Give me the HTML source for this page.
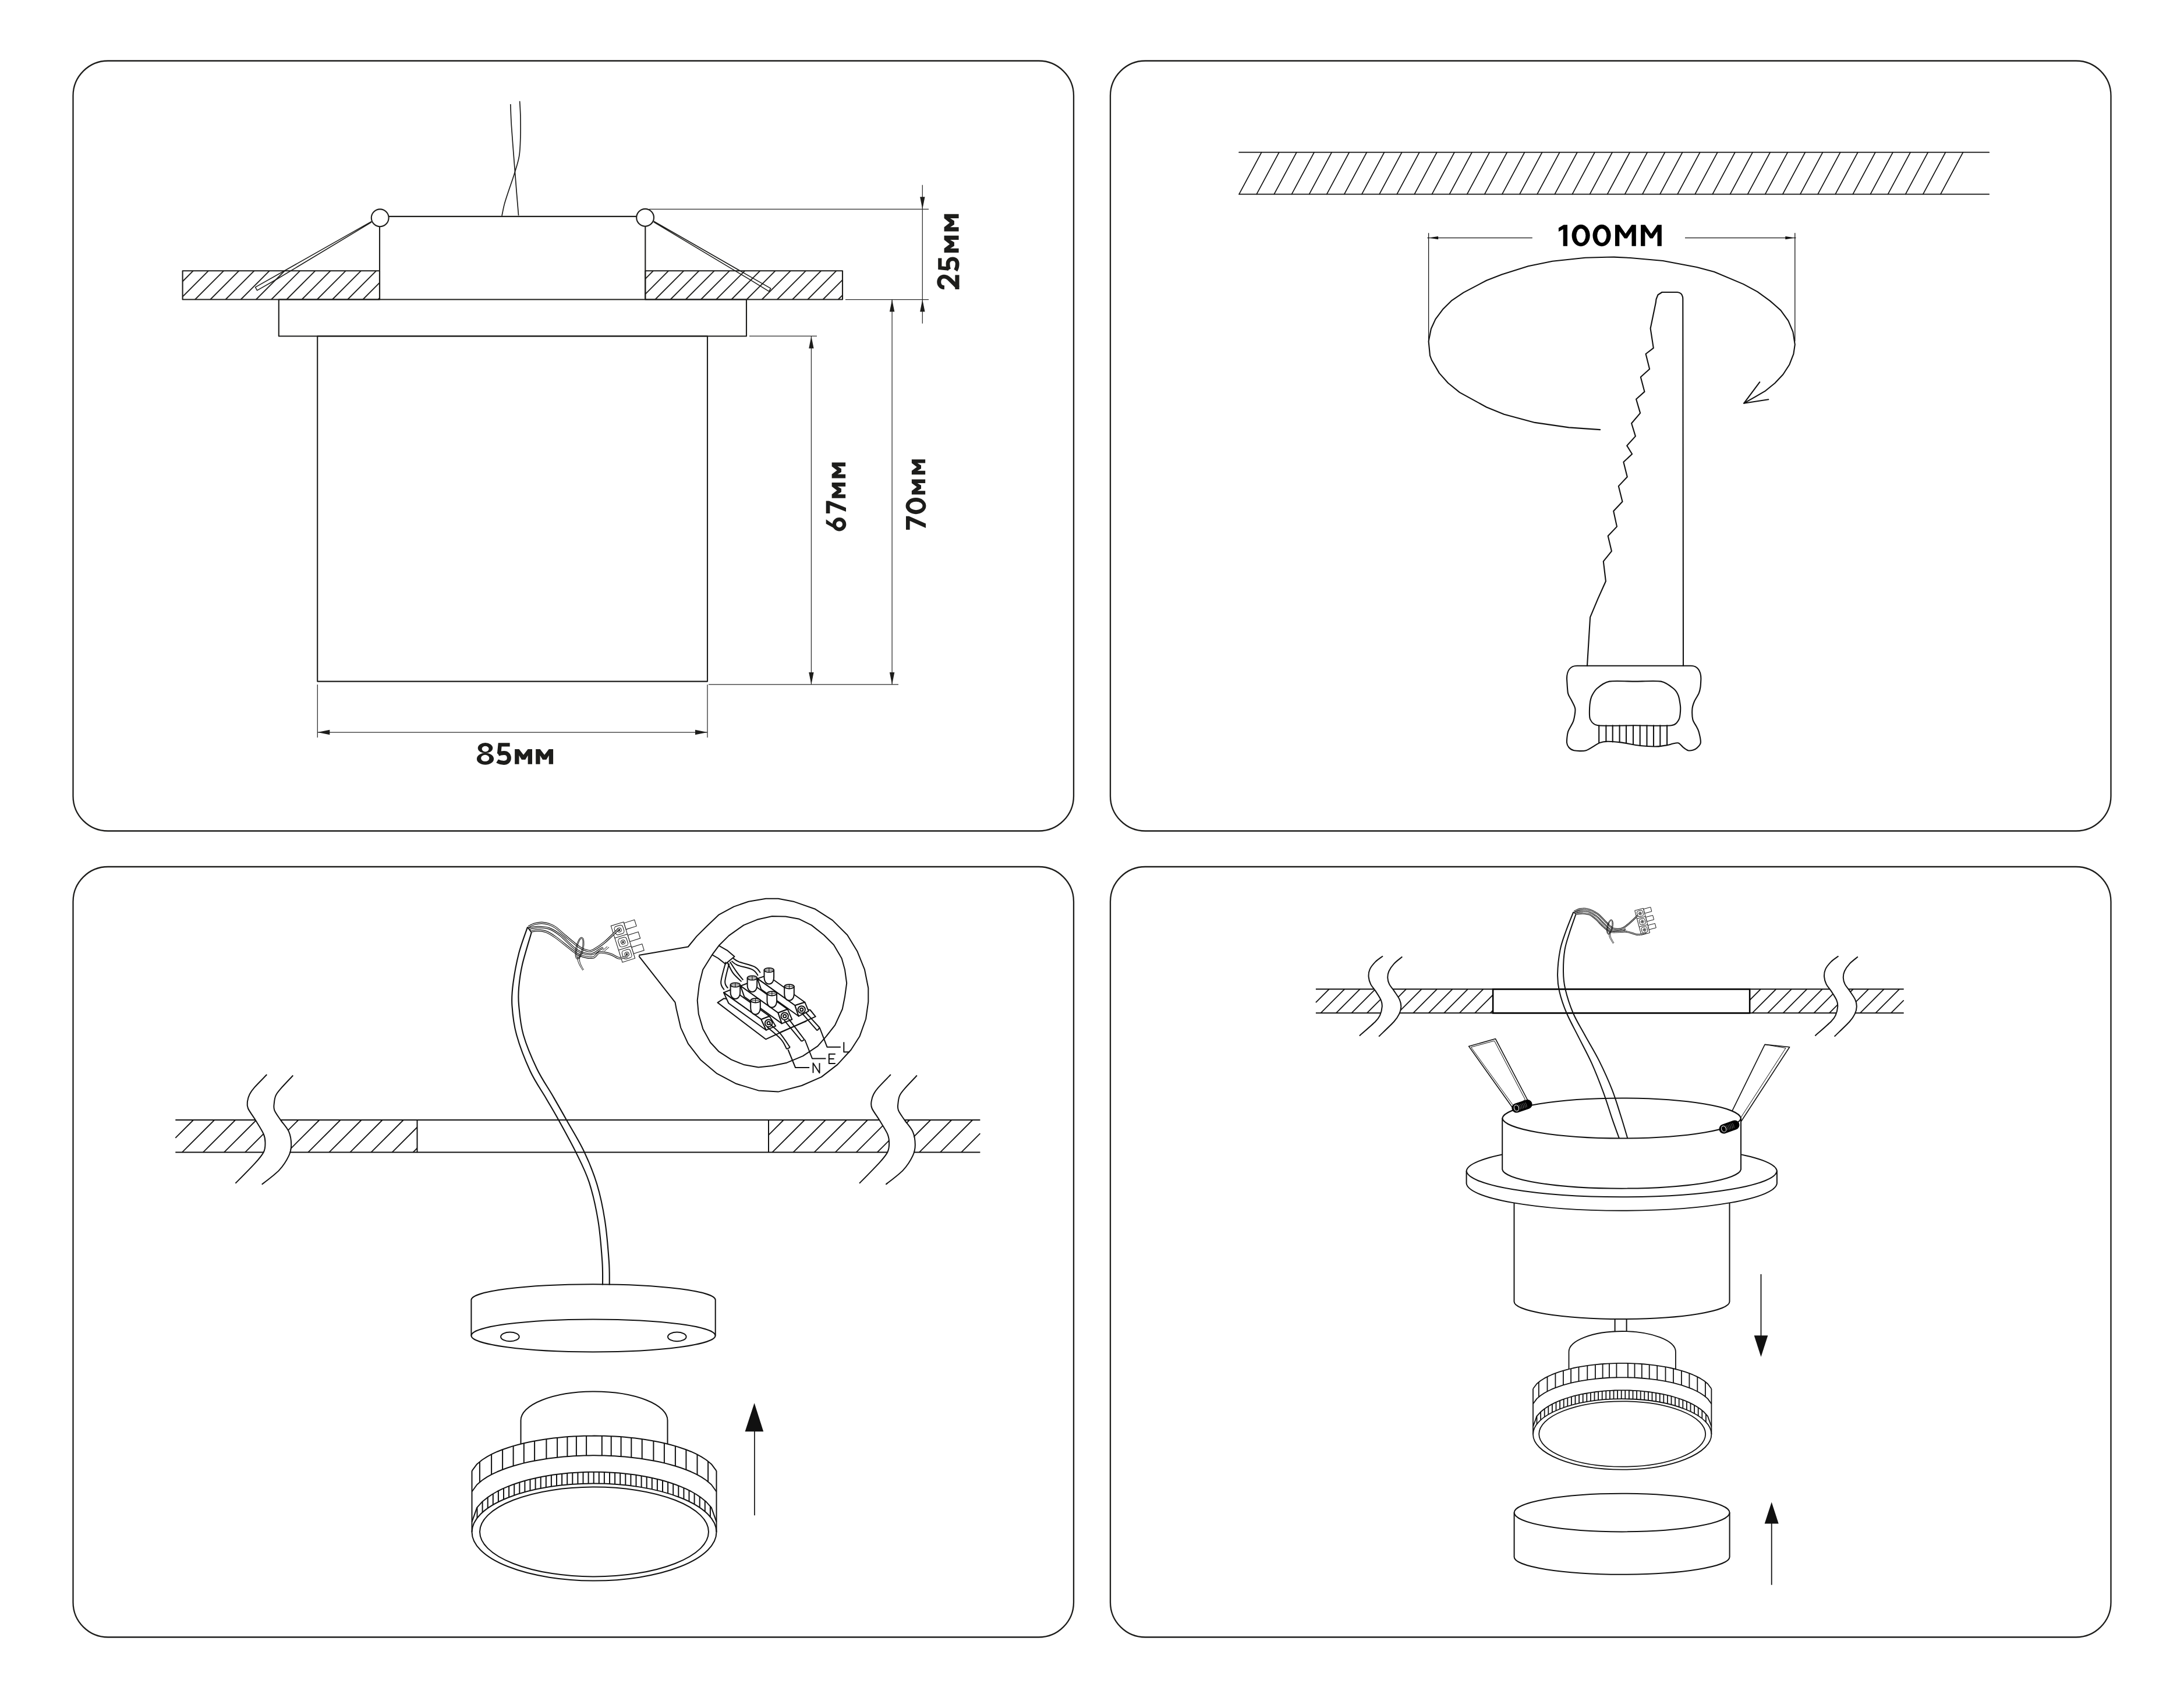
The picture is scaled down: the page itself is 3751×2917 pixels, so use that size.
<!DOCTYPE html><html><head><meta charset="utf-8"><style>html,body{margin:0;padding:0;background:#fff;}svg{display:block;}</style></head><body><svg width="3751" height="2917" viewBox="0 0 3751 2917"><rect width="3751" height="2917" fill="#fff"/><g fill="none" stroke="#1d1d1b" stroke-width="2.3"><rect x="125.5" y="104.5" width="1718.5" height="1323" rx="60" ry="60"/><rect x="1907" y="104.5" width="1718.5" height="1323" rx="60" ry="60"/><rect x="125.5" y="1489" width="1718.5" height="1323.5" rx="60" ry="60"/><rect x="1907" y="1489" width="1718.5" height="1323.5" rx="60" ry="60"/></g><g fill="none" stroke="#1d1d1b" stroke-width="2.1" stroke-linejoin="round"><rect x="313.6" y="465.2" width="338.4" height="49.3"/><rect x="1108.2" y="465.2" width="338.8" height="49.3"/><g stroke-width="1.9"><line x1="331.9" y1="465.2" x2="313.6" y2="483.5" /><line x1="358.1" y1="465.2" x2="313.6" y2="509.7" /><line x1="384.3" y1="465.2" x2="335" y2="514.5" /><line x1="410.5" y1="465.2" x2="361.2" y2="514.5" /><line x1="436.7" y1="465.2" x2="387.4" y2="514.5" /><line x1="462.9" y1="465.2" x2="413.6" y2="514.5" /><line x1="489.1" y1="465.2" x2="439.8" y2="514.5" /><line x1="515.3" y1="465.2" x2="466" y2="514.5" /><line x1="541.5" y1="465.2" x2="492.2" y2="514.5" /><line x1="567.7" y1="465.2" x2="518.4" y2="514.5" /><line x1="593.9" y1="465.2" x2="544.6" y2="514.5" /><line x1="620.1" y1="465.2" x2="570.8" y2="514.5" /><line x1="646.3" y1="465.2" x2="597" y2="514.5" /><line x1="652" y1="485.7" x2="623.2" y2="514.5" /><line x1="652" y1="511.9" x2="649.4" y2="514.5" /><line x1="1122.1" y1="465.2" x2="1108.2" y2="479.1" /><line x1="1148.3" y1="465.2" x2="1108.2" y2="505.3" /><line x1="1174.5" y1="465.2" x2="1125.2" y2="514.5" /><line x1="1200.7" y1="465.2" x2="1151.4" y2="514.5" /><line x1="1226.9" y1="465.2" x2="1177.6" y2="514.5" /><line x1="1253.1" y1="465.2" x2="1203.8" y2="514.5" /><line x1="1279.3" y1="465.2" x2="1230" y2="514.5" /><line x1="1305.5" y1="465.2" x2="1256.2" y2="514.5" /><line x1="1331.7" y1="465.2" x2="1282.4" y2="514.5" /><line x1="1357.9" y1="465.2" x2="1308.6" y2="514.5" /><line x1="1384.1" y1="465.2" x2="1334.8" y2="514.5" /><line x1="1410.3" y1="465.2" x2="1361" y2="514.5" /><line x1="1436.5" y1="465.2" x2="1387.2" y2="514.5" /><line x1="1447" y1="480.9" x2="1413.4" y2="514.5" /><line x1="1447" y1="507.1" x2="1439.6" y2="514.5" /></g><line x1="652" y1="389.2" x2="652" y2="514.5" /><line x1="1108.3" y1="388.6" x2="1108.3" y2="514.5" /><line x1="667.6" y1="371.9" x2="1093.1" y2="371.9" /><circle cx="652.7" cy="374.3" r="14.9" fill="#fff"/><circle cx="1108.1" cy="373.8" r="14.9" fill="#fff"/><rect x="478.8" y="514.5" width="803.2" height="63"/><rect x="545.2" y="577.5" width="669.8" height="593.1"/><g stroke-width="1.6"><path d="M638.2,380.4 L438.6,493.4 L441.6,498.9 L476,479.3 L638.2,381.6"/><path d="M1122.6,380 L1323.6,495.4 L1320.8,500.6 L1288,480.4 L1122.6,381.4"/></g><g stroke-width="1.7"><path d="M876.8,179 C877.1,185.2 877.3,198.8 878.4,216 C879.5,233.2 881.9,262.1 883.4,281.9 C884.9,301.7 886.4,319.9 887.6,334.6 C888.8,349.3 890.1,364.3 890.6,370.2"/><path d="M892.6,173.7 C892.8,178 893.7,189.2 893.9,199.5 C894.1,209.8 894.3,224.2 893.9,235.7 C893.5,247.2 893.4,258.2 891.6,268.7 C889.9,279.1 886.4,288.5 883.4,298.4 C880.4,308.3 876.4,319.2 873.5,328 C870.6,336.8 868.1,344 866.2,351.1 C864.3,358.2 862.7,367.6 862,370.9"/></g></g><g stroke="#2a2a2a" stroke-width="1.25" fill="none"><line x1="1115" y1="359.3" x2="1595" y2="359.3" /><line x1="1452" y1="514.5" x2="1595" y2="514.5" /><line x1="1584.3" y1="317.8" x2="1584.3" y2="555.8" /><line x1="1287" y1="577.4" x2="1403" y2="577.4" /><line x1="1393.4" y1="577.4" x2="1393.4" y2="1175.9" /><line x1="1532.1" y1="514.5" x2="1532.1" y2="1175.9" /><line x1="1217" y1="1175.9" x2="1543" y2="1175.9" /><line x1="545.3" y1="1176" x2="545.3" y2="1267" /><line x1="1215" y1="1176" x2="1215" y2="1267" /><line x1="545.3" y1="1258" x2="1215" y2="1258" /></g><polygon points="1584.3,359.3 1580.1,338.3 1588.5,338.3" fill="#1d1d1b" stroke="none"/><polygon points="1584.3,514.5 1588.5,535.5 1580.1,535.5" fill="#1d1d1b" stroke="none"/><polygon points="1393.4,577.4 1397.6,598.4 1389.2,598.4" fill="#1d1d1b" stroke="none"/><polygon points="1393.4,1175.9 1389.2,1154.9 1397.6,1154.9" fill="#1d1d1b" stroke="none"/><polygon points="1532.1,514.5 1536.3,535.5 1527.9,535.5" fill="#1d1d1b" stroke="none"/><polygon points="1532.1,1175.9 1527.9,1154.9 1536.3,1154.9" fill="#1d1d1b" stroke="none"/><polygon points="545.3,1258 566.3,1253.8 566.3,1262.2" fill="#1d1d1b" stroke="none"/><polygon points="1215,1258 1194,1262.2 1194,1253.8" fill="#1d1d1b" stroke="none"/><g transform="translate(818.90,1276.00) scale(0.37800)"><g transform="translate(0.00,0) scale(1.0000,1)"><ellipse cx="38.6" cy="23.8" rx="33.8" ry="23.8" fill="#1d1d1b"/><ellipse cx="38.6" cy="73.2" rx="38.6" ry="26.8" fill="#1d1d1b"/><ellipse cx="38.9" cy="28.1" rx="15.8" ry="12.8" fill="#fff"/><ellipse cx="37.9" cy="70" rx="18.8" ry="14.8" fill="#fff"/></g><g transform="translate(88.10,0) scale(1.0000,1)"><path d="M62,9 L17,9 L13,50" fill="none" stroke="#1d1d1b" stroke-width="17"/><path d="M9,52 C16,48 26,46.5 36,46.5 C49.5,46.5 58.6,56 58.6,69.5 C58.6,83 48.5,91 35,91 C23,91 13,88 5,83" fill="none" stroke="#1d1d1b" stroke-width="18.5"/></g><g transform="translate(172.60,0) scale(1.0000,1)"><polygon points="0,97.5 0,29 19.5,29 39.5,55 59.5,29 79,29 79,97.5 59.5,97.5 59.5,57.5 48,76.5 31,76.5 19.5,57.5 19.5,97.5" fill="#1d1d1b"/></g><g transform="translate(268.00,0) scale(1.0000,1)"><polygon points="0,97.5 0,29 19.5,29 39.5,55 59.5,29 79,29 79,97.5 59.5,97.5 59.5,57.5 48,76.5 31,76.5 19.5,57.5 19.5,97.5" fill="#1d1d1b"/></g></g><g transform="translate(1611.00,497.00) rotate(-90) scale(0.36500)"><g transform="translate(0.00,0) scale(1.0000,1)"><path d="M8.5,30 C9,13.5 21,4.8 34.5,4.8 C50,4.8 60,15 60,29 C60,40.5 54,48 46,56 L8,94" fill="none" stroke="#1d1d1b" stroke-width="19"/><rect x="0" y="80.5" width="67.4" height="19.5" fill="#1d1d1b"/></g><g transform="translate(83.80,0) scale(1.0103,1)"><path d="M62,9 L17,9 L13,50" fill="none" stroke="#1d1d1b" stroke-width="17"/><path d="M9,52 C16,48 26,46.5 36,46.5 C49.5,46.5 58.6,56 58.6,69.5 C58.6,83 48.5,91 35,91 C23,91 13,88 5,83" fill="none" stroke="#1d1d1b" stroke-width="18.5"/></g><g transform="translate(172.60,0) scale(1.0127,1)"><polygon points="0,97.5 0,29 19.5,29 39.5,55 59.5,29 79,29 79,97.5 59.5,97.5 59.5,57.5 48,76.5 31,76.5 19.5,57.5 19.5,97.5" fill="#1d1d1b"/></g><g transform="translate(272.60,0) scale(1.0304,1)"><polygon points="0,97.5 0,29 19.5,29 39.5,55 59.5,29 79,29 79,97.5 59.5,97.5 59.5,57.5 48,76.5 31,76.5 19.5,57.5 19.5,97.5" fill="#1d1d1b"/></g></g><g transform="translate(1418.70,913.50) rotate(-90) scale(0.34300)"><g transform="translate(0.00,0) scale(1.0000,1)"><circle cx="37.2" cy="66.5" r="25.2" fill="none" stroke="#1d1d1b" stroke-width="18.5"/><polygon points="40,0 62,0 29,48 7,60" fill="#1d1d1b"/></g><g transform="translate(92.10,0) scale(0.9080,1)"><polygon points="0,0 68.5,0 68.5,15 31,100 9,100 45,19.5 0,19.5" fill="#1d1d1b"/></g><g transform="translate(168.20,0) scale(0.9886,1)"><polygon points="0,97.5 0,29 19.5,29 39.5,55 59.5,29 79,29 79,97.5 59.5,97.5 59.5,57.5 48,76.5 31,76.5 19.5,57.5 19.5,97.5" fill="#1d1d1b"/></g><g transform="translate(268.50,0) scale(0.9886,1)"><polygon points="0,97.5 0,29 19.5,29 39.5,55 59.5,29 79,29 79,97.5 59.5,97.5 59.5,57.5 48,76.5 31,76.5 19.5,57.5 19.5,97.5" fill="#1d1d1b"/></g></g><g transform="translate(1556.00,910.00) rotate(-90) scale(0.34000)"><g transform="translate(0.00,0) scale(1.0000,1)"><polygon points="0,0 68.5,0 68.5,15 31,100 9,100 45,19.5 0,19.5" fill="#1d1d1b"/></g><g transform="translate(78.80,0) scale(0.9753,1)"><ellipse cx="42.5" cy="50" rx="42.5" ry="51.3" fill="#1d1d1b"/><ellipse cx="43" cy="51" rx="22" ry="33" fill="#fff"/></g><g transform="translate(177.60,0) scale(0.9709,1)"><polygon points="0,97.5 0,29 19.5,29 39.5,55 59.5,29 79,29 79,97.5 59.5,97.5 59.5,57.5 48,76.5 31,76.5 19.5,57.5 19.5,97.5" fill="#1d1d1b"/></g><g transform="translate(278.70,0) scale(0.9709,1)"><polygon points="0,97.5 0,29 19.5,29 39.5,55 59.5,29 79,29 79,97.5 59.5,97.5 59.5,57.5 48,76.5 31,76.5 19.5,57.5 19.5,97.5" fill="#1d1d1b"/></g></g><g fill="none" stroke="#111" stroke-width="1.7" stroke-linejoin="round" stroke-linecap="round"><line x1="2128.1" y1="261.7" x2="3416.2" y2="261.7" /><line x1="2128.1" y1="333.6" x2="3416.2" y2="333.6" /><line x1="2128.1" y1="333.6" x2="2166.7" y2="261.7" /><line x1="2158.2" y1="333.6" x2="2196.8" y2="261.7" /><line x1="2188.3" y1="333.6" x2="2226.9" y2="261.7" /><line x1="2218.5" y1="333.6" x2="2257.1" y2="261.7" /><line x1="2248.6" y1="333.6" x2="2287.2" y2="261.7" /><line x1="2278.7" y1="333.6" x2="2317.3" y2="261.7" /><line x1="2308.8" y1="333.6" x2="2347.4" y2="261.7" /><line x1="2338.9" y1="333.6" x2="2377.5" y2="261.7" /><line x1="2369.1" y1="333.6" x2="2407.7" y2="261.7" /><line x1="2399.2" y1="333.6" x2="2437.8" y2="261.7" /><line x1="2429.3" y1="333.6" x2="2467.9" y2="261.7" /><line x1="2459.4" y1="333.6" x2="2498" y2="261.7" /><line x1="2489.5" y1="333.6" x2="2528.1" y2="261.7" /><line x1="2519.7" y1="333.6" x2="2558.3" y2="261.7" /><line x1="2549.8" y1="333.6" x2="2588.4" y2="261.7" /><line x1="2579.9" y1="333.6" x2="2618.5" y2="261.7" /><line x1="2610" y1="333.6" x2="2648.6" y2="261.7" /><line x1="2640.1" y1="333.6" x2="2678.7" y2="261.7" /><line x1="2670.3" y1="333.6" x2="2708.9" y2="261.7" /><line x1="2700.4" y1="333.6" x2="2739" y2="261.7" /><line x1="2730.5" y1="333.6" x2="2769.1" y2="261.7" /><line x1="2760.6" y1="333.6" x2="2799.2" y2="261.7" /><line x1="2790.7" y1="333.6" x2="2829.3" y2="261.7" /><line x1="2820.9" y1="333.6" x2="2859.5" y2="261.7" /><line x1="2851" y1="333.6" x2="2889.6" y2="261.7" /><line x1="2881.1" y1="333.6" x2="2919.7" y2="261.7" /><line x1="2911.2" y1="333.6" x2="2949.8" y2="261.7" /><line x1="2941.3" y1="333.6" x2="2979.9" y2="261.7" /><line x1="2971.5" y1="333.6" x2="3010.1" y2="261.7" /><line x1="3001.6" y1="333.6" x2="3040.2" y2="261.7" /><line x1="3031.7" y1="333.6" x2="3070.3" y2="261.7" /><line x1="3061.8" y1="333.6" x2="3100.4" y2="261.7" /><line x1="3091.9" y1="333.6" x2="3130.5" y2="261.7" /><line x1="3122.1" y1="333.6" x2="3160.7" y2="261.7" /><line x1="3152.2" y1="333.6" x2="3190.8" y2="261.7" /><line x1="3182.3" y1="333.6" x2="3220.9" y2="261.7" /><line x1="3212.4" y1="333.6" x2="3251" y2="261.7" /><line x1="3242.5" y1="333.6" x2="3281.1" y2="261.7" /><line x1="3272.7" y1="333.6" x2="3311.3" y2="261.7" /><line x1="3302.8" y1="333.6" x2="3341.4" y2="261.7" /><line x1="3332.9" y1="333.6" x2="3371.5" y2="261.7" /></g><g stroke="#111" stroke-width="1.3" fill="none"><line x1="2453.6" y1="400.3" x2="2453.6" y2="586.5" /><line x1="3082.8" y1="400.3" x2="3082.8" y2="586.5" /><line x1="2451.4" y1="408.6" x2="2631.8" y2="408.6" /><line x1="2894" y1="408.6" x2="3084.5" y2="408.6" /></g><polygon points="2453.6,408.6 2470.1,405.9 2470.1,411.3" fill="#111" stroke="none"/><polygon points="3082.8,408.6 3066.3,411.3 3066.3,405.9" fill="#111" stroke="none"/><g transform="translate(2676.90,386.20) scale(0.36600)"><g transform="translate(0.00,0) scale(1.0000,1)"><polygon points="0,14.3 24,0 41.3,0 41.3,100 21.3,100 21.3,20.5 0,32" fill="#000"/></g><g transform="translate(62.00,0) scale(1.0000,1)"><ellipse cx="42.5" cy="50" rx="42.5" ry="51.3" fill="#000"/><ellipse cx="43" cy="51" rx="22" ry="33" fill="#fff"/></g><g transform="translate(160.10,0) scale(1.0000,1)"><ellipse cx="42.5" cy="50" rx="42.5" ry="51.3" fill="#000"/><ellipse cx="43" cy="51" rx="22" ry="33" fill="#fff"/></g><g transform="translate(265.20,0) scale(1.0000,1)"><polygon points="0,100 0,0 20,0 49,41.8 78,0 98,0 98,100 78,100 78,31 56.3,63.5 43.8,63.5 20,31 20,100" fill="#000"/></g><g transform="translate(385.80,0) scale(0.9959,1)"><polygon points="0,100 0,0 20,0 49,41.8 78,0 98,0 98,100 78,100 78,31 56.3,63.5 43.8,63.5 20,31 20,100" fill="#000"/></g></g><g fill="none" stroke="#111" stroke-width="2.1" stroke-linecap="round" stroke-linejoin="round"><path d="M2748.1,738.1 L2694.4,734.4 L2636,725.9 L2583.2,711.8 L2553.1,699.5 L2506.9,674.1 L2487.1,658 L2472,641.1 L2458.8,618.5 L2456,610.9 L2453.6,586.4 L2457.9,564.8 L2465.4,548.4 L2477.7,531.8 L2492.8,516.7 L2513.5,502.6 L2553.1,481.8 L2579.5,471.5 L2624.7,457.3 L2666.2,448.8 L2722.7,442.8 L2760,441.7 L2772,441.6 L2800,443 L2856.1,448 L2914.2,459 L2944.2,467 L2994.3,488.1 L3018.3,501.1 L3040.3,517.1 L3058.4,533.1 L3071.4,551.1 L3079.4,570.2 L3082.8,591.8 L3080.4,608.2 L3073.4,626.2 L3062.4,643.3 L3048.3,658.3 L3032.3,671.3 L3014.3,681.9 L2995.3,692.7"/><line x1="2995.3" y1="692.7" x2="3022.3" y2="656.3" /><line x1="2995.3" y1="692.7" x2="3037.3" y2="686.3" /><path d="M2726,1143.8 L2731.1,1060.3 2744.5,1028.4 2757.9,998.5 2753.8,964.4 2767.9,946.8 2761.7,920.8 2777,904.6 2771.2,878 2786.5,861.7 2779.8,835.1 2794.8,819.2 2788.4,793.8 2803.1,780 2794.2,765.6 2808.9,749.4 2802.1,727.3 2817.1,709.6 2810.1,685.7 2824.5,672.9 2817.8,647.8 2833.1,634 2826.6,608 2839.8,597.9 2834.6,564.2 2843.8,519.8 2844.5,514 2847.5,506.5 2854.5,502 L2881,502 Q2890.3,503 2890.3,513.7 L2891,1143.8"/><path d="M2708.5,1143.8 L2904.3,1143.8 C2915,1143.8 2921.4,1152 2921.4,1166 C2921.3,1167.9 2921,1176.6 2920.5,1180 C2920,1183.4 2919.1,1187.9 2917.7,1191.2 C2916.3,1194.5 2911.5,1201.4 2910,1205 C2908.5,1208.6 2906.7,1213.8 2906.4,1218 C2906.1,1222.2 2906.5,1232.7 2907.4,1236.6 C2908.3,1240.5 2911.6,1244.3 2913,1247 C2914.4,1249.7 2916.7,1253.4 2917.7,1257.2 C2918.7,1261 2921.2,1272.2 2920.8,1275.8 C2920.4,1279.4 2916.7,1282.8 2915,1284.5 C2913.3,1286.2 2910.1,1287.9 2908,1288.5 C2905.9,1289.1 2901.5,1289.8 2899.2,1289.2 C2896.9,1288.6 2893.2,1285.7 2891,1284 C2888.8,1282.3 2885.2,1277.2 2882.7,1276.4 C2880.2,1275.6 2874.9,1277.3 2872.4,1277.8 C2869.9,1278.3 2867.6,1279.4 2864,1280 C2860.4,1280.6 2851.9,1282.3 2845.6,1282.4 C2839.3,1282.5 2825,1281.9 2816.7,1281 C2808.4,1280.1 2791.1,1276.4 2783.7,1275.4 C2776.3,1274.4 2765.9,1273.6 2761,1273.7 C2756.1,1273.8 2751.5,1274.3 2746.6,1276.4 C2741.7,1278.5 2729.8,1287.5 2724,1289.2 C2718.2,1290.9 2707.2,1289.9 2703.3,1289.2 C2699.4,1288.5 2696.1,1285.8 2694.5,1284 C2692.9,1282.2 2691.2,1279.4 2691,1275.8 C2690.8,1272.2 2691.5,1262.1 2693,1257.2 C2694.5,1252.3 2700.6,1243.9 2702.3,1238.7 C2704,1233.5 2705.8,1222.8 2705.4,1218 C2705,1213.2 2700.7,1206.6 2699,1203 C2697.3,1199.4 2694.1,1195.9 2693,1191 C2691.9,1186.1 2691.3,1169.3 2691,1166 C2691,1152 2697,1143.8 2708.5,1143.8 Z"/><path d="M2764.1,1170.6 C2771.7,1169.2 2797.7,1170.6 2808,1170.6 C2818.3,1170.6 2845.1,1169.2 2852.8,1170.6 C2860.5,1172 2870.9,1180.1 2874.4,1183 C2877.9,1185.9 2881.3,1191.6 2882.7,1195.4 C2884.1,1199.2 2886.1,1211.3 2886.2,1216 C2886.3,1220.7 2885.6,1232.1 2883.7,1235.6 C2881.8,1239.1 2879.1,1245.1 2870.3,1246.3 C2861.5,1247.5 2822.7,1246.3 2808,1246.3 C2793.3,1246.3 2753.5,1247.5 2744.5,1246.3 C2735.5,1245.1 2732.8,1239.1 2731.1,1235.6 C2729.4,1232.1 2729.9,1220.5 2730.1,1216 C2730.3,1211.5 2731.8,1201.2 2733.2,1197.4 C2734.6,1193.6 2738.9,1186.1 2742.5,1183 C2746.1,1179.9 2756.5,1172 2764.1,1170.6Z"/><line x1="2746.2" y1="1246.3" x2="2746.2" y2="1276.1" /><line x1="2758.4" y1="1246.3" x2="2758.4" y2="1274.1" /><line x1="2769.7" y1="1246.3" x2="2769.7" y2="1274.4" /><line x1="2781.6" y1="1246.3" x2="2781.6" y2="1275.2" /><line x1="2793" y1="1246.3" x2="2793" y2="1277" /><line x1="2805" y1="1246.3" x2="2805" y2="1279" /><line x1="2816.7" y1="1246.3" x2="2816.7" y2="1281" /><line x1="2828.5" y1="1246.3" x2="2828.5" y2="1281.6" /><line x1="2840" y1="1246.3" x2="2840" y2="1282.1" /><line x1="2851.3" y1="1246.3" x2="2851.3" y2="1281.7" /><line x1="2863.1" y1="1246.3" x2="2863.1" y2="1280.1" /></g><g stroke="#111" stroke-width="2.0" fill="none"><line x1="301.3" y1="1924" x2="1683.4" y2="1924" /><line x1="301.3" y1="1979.6" x2="1683.4" y2="1979.6" /><line x1="716.5" y1="1924" x2="716.5" y2="1979.6" /><line x1="1320" y1="1924" x2="1320" y2="1979.6" /><g stroke-width="1.80"><line x1="332.2" y1="1924" x2="301.3" y2="1954.9" /><line x1="368.3" y1="1924" x2="312.7" y2="1979.6" /><line x1="404.3" y1="1924" x2="348.7" y2="1979.6" /><line x1="440.4" y1="1924" x2="384.8" y2="1979.6" /><line x1="476.5" y1="1924" x2="420.9" y2="1979.6" /><line x1="512.5" y1="1924" x2="457" y2="1979.6" /><line x1="548.6" y1="1924" x2="493" y2="1979.6" /><line x1="584.7" y1="1924" x2="529.1" y2="1979.6" /><line x1="620.8" y1="1924" x2="565.2" y2="1979.6" /><line x1="656.8" y1="1924" x2="601.2" y2="1979.6" /><line x1="692.9" y1="1924" x2="637.3" y2="1979.6" /><line x1="716.5" y1="1936.5" x2="673.4" y2="1979.6" /><line x1="716.5" y1="1972.5" x2="709.4" y2="1979.6" /><line x1="1345.8" y1="1924" x2="1320" y2="1949.8" /><line x1="1381.9" y1="1924" x2="1326.3" y2="1979.6" /><line x1="1417.9" y1="1924" x2="1362.3" y2="1979.6" /><line x1="1454" y1="1924" x2="1398.4" y2="1979.6" /><line x1="1490.1" y1="1924" x2="1434.5" y2="1979.6" /><line x1="1526.1" y1="1924" x2="1470.5" y2="1979.6" /><line x1="1562.2" y1="1924" x2="1506.6" y2="1979.6" /><line x1="1598.3" y1="1924" x2="1542.7" y2="1979.6" /><line x1="1634.4" y1="1924" x2="1578.8" y2="1979.6" /><line x1="1670.4" y1="1924" x2="1614.8" y2="1979.6" /><line x1="1683.4" y1="1947.1" x2="1650.9" y2="1979.6" /></g></g><path d="M458.3,1846 C454.8,1849.7 441.9,1862.5 437,1868.1 C432.1,1873.7 430.8,1875.8 428.8,1879.8 C426.8,1883.8 425.5,1888.1 425,1892.1 C424.5,1896.1 423.8,1898.8 426,1904 C428.2,1909.2 433.9,1916.2 438.4,1923.6 C442.9,1931 449.9,1941.6 452.8,1948.3 C455.7,1955 455.5,1958.6 455.5,1963.8 C455.5,1969 455.7,1973.5 452.8,1979.2 C449.9,1984.9 446.5,1988.9 438.4,1997.8 C430.3,2006.7 410.1,2027 404.4,2032.8 L449.7,2034.8 479.6,2010.1 496.1,1985.4 500.2,1966.8 496.1,1944.2 481.6,1923.6 471.3,1907.1 470.9,1894.7 473.7,1881.8 481.6,1870.8 503.3,1847.5 Z" fill="#fff" stroke="none"/><path d="M458.3,1846 C454.8,1849.7 441.9,1862.5 437,1868.1 C432.1,1873.7 430.8,1875.8 428.8,1879.8 C426.8,1883.8 425.5,1888.1 425,1892.1 C424.5,1896.1 423.8,1898.8 426,1904 C428.2,1909.2 433.9,1916.2 438.4,1923.6 C442.9,1931 449.9,1941.6 452.8,1948.3 C455.7,1955 455.5,1958.6 455.5,1963.8 C455.5,1969 455.7,1973.5 452.8,1979.2 C449.9,1984.9 446.5,1988.9 438.4,1997.8 C430.3,2006.7 410.1,2027 404.4,2032.8" fill="none" stroke="#111" stroke-width="2.0"/><path d="M503.3,1847.5 C499.7,1851.4 486.5,1865.1 481.6,1870.8 C476.7,1876.5 475.5,1877.8 473.7,1881.8 C471.9,1885.8 471.3,1890.5 470.9,1894.7 C470.5,1898.9 469.5,1902.3 471.3,1907.1 C473.1,1911.9 477.5,1917.4 481.6,1923.6 C485.7,1929.8 493,1937 496.1,1944.2 C499.2,1951.4 500.2,1959.9 500.2,1966.8 C500.2,1973.7 499.5,1978.2 496.1,1985.4 C492.7,1992.6 487.3,2001.9 479.6,2010.1 C471.9,2018.3 454.7,2030.7 449.7,2034.8" fill="none" stroke="#111" stroke-width="2.0"/><path d="M1529.9,1846 C1526.3,1849.7 1513.5,1862.5 1508.6,1868.1 C1503.7,1873.7 1502.4,1875.8 1500.4,1879.8 C1498.4,1883.8 1497.1,1888.1 1496.6,1892.1 C1496.1,1896.1 1495.4,1898.8 1497.6,1904 C1499.8,1909.2 1505.5,1916.2 1510,1923.6 C1514.5,1931 1521.5,1941.6 1524.4,1948.3 C1527.2,1955 1527.1,1958.6 1527.1,1963.8 C1527.1,1969 1527.2,1973.5 1524.4,1979.2 C1521.5,1984.9 1518.1,1988.9 1510,1997.8 C1501.9,2006.7 1481.7,2027 1476,2032.8 L1521.3,2034.8 1551.2,2010.1 1567.7,1985.4 1571.8,1966.8 1567.7,1944.2 1553.2,1923.6 1542.9,1907.1 1542.5,1894.7 1545.3,1881.8 1553.2,1870.8 1574.9,1847.5 Z" fill="#fff" stroke="none"/><path d="M1529.9,1846 C1526.3,1849.7 1513.5,1862.5 1508.6,1868.1 C1503.7,1873.7 1502.4,1875.8 1500.4,1879.8 C1498.4,1883.8 1497.1,1888.1 1496.6,1892.1 C1496.1,1896.1 1495.4,1898.8 1497.6,1904 C1499.8,1909.2 1505.5,1916.2 1510,1923.6 C1514.5,1931 1521.5,1941.6 1524.4,1948.3 C1527.2,1955 1527.1,1958.6 1527.1,1963.8 C1527.1,1969 1527.2,1973.5 1524.4,1979.2 C1521.5,1984.9 1518.1,1988.9 1510,1997.8 C1501.9,2006.7 1481.7,2027 1476,2032.8" fill="none" stroke="#111" stroke-width="2.0"/><path d="M1574.9,1847.5 C1571.3,1851.4 1558.1,1865.1 1553.2,1870.8 C1548.3,1876.5 1547.1,1877.8 1545.3,1881.8 C1543.5,1885.8 1542.9,1890.5 1542.5,1894.7 C1542.1,1898.9 1541.1,1902.3 1542.9,1907.1 C1544.7,1911.9 1549.1,1917.4 1553.2,1923.6 C1557.3,1929.8 1564.6,1937 1567.7,1944.2 C1570.8,1951.4 1571.8,1959.9 1571.8,1966.8 C1571.8,1973.7 1571.1,1978.2 1567.7,1985.4 C1564.3,1992.6 1558.9,2001.9 1551.2,2010.1 C1543.5,2018.3 1526.3,2030.7 1521.3,2034.8" fill="none" stroke="#111" stroke-width="2.0"/><g fill="none" stroke="#111" stroke-width="2.1"><path d="M906.1,1592.6 C903.6,1600.1 895.2,1621.8 891.1,1637.8 C887,1653.8 883.4,1673.5 881.4,1688.4 C879.4,1703.3 878.4,1712.3 879.4,1727.2 C880.4,1742.1 882,1759 887.2,1777.8 C892.4,1796.6 902.2,1821.8 910.6,1840 C919,1858.2 929.7,1872.8 937.8,1886.7 C945.9,1900.7 950.8,1908.5 959.2,1923.7 C967.6,1938.9 979.6,1960.3 988.4,1978.1 C997.1,1995.9 1005.2,2010.8 1011.7,2030.6 C1018.2,2050.4 1023.4,2074.1 1027.2,2096.8 C1031,2119.5 1033,2148.3 1034.3,2166.8 C1035.6,2185.3 1034.9,2200.8 1035,2207.6"/><path d="M912.8,1601.7 C910.2,1611 900.6,1641.5 897,1657.2 C893.4,1672.9 892.1,1684.4 891.1,1696.1 C890.1,1707.8 889.8,1713.6 891.1,1727.2 C892.4,1740.8 893.7,1759.6 898.9,1777.8 C904.1,1796 913.8,1818.7 922.2,1836.2 C930.6,1853.7 941.1,1868.2 949.5,1882.8 C957.9,1897.4 963.9,1907.8 972.8,1923.7 C981.7,1939.6 994.4,1959.6 1003.1,1978.1 C1011.9,1996.6 1019.3,2014.7 1025.3,2034.5 C1031.3,2054.3 1035.5,2074.8 1038.9,2096.8 C1042.3,2118.9 1044.6,2148.3 1045.9,2166.8 C1047.2,2185.3 1046.6,2200.8 1046.7,2207.6"/><line x1="906.1" y1="1592.6" x2="912.8" y2="1601.7" /></g><g transform="translate(1049.3,1590.7) rotate(-17.5) scale(1.0)" fill="#fff" stroke="#111" stroke-width="1.00"><rect x="22.7" y="2.0" width="19" height="11.5"/><rect x="22.7" y="23.8" width="19" height="11.5"/><rect x="22.7" y="45.6" width="19" height="11.5"/><rect x="0" y="0" width="22.7" height="65.4"/><rect x="4" y="3.4" width="15" height="15" rx="4"/><circle cx="11.5" cy="10.9" r="3.6"/><circle cx="11.5" cy="10.9" r="1.2" fill="#111"/><line x1="0" y1="21.8" x2="22.7" y2="21.8"/><rect x="4" y="25.2" width="15" height="15" rx="4"/><circle cx="11.5" cy="32.7" r="3.6"/><circle cx="11.5" cy="32.7" r="1.2" fill="#111"/><line x1="0" y1="43.6" x2="22.7" y2="43.6"/><rect x="4" y="47.0" width="15" height="15" rx="4"/><circle cx="11.5" cy="54.5" r="3.6"/><circle cx="11.5" cy="54.5" r="1.2" fill="#111"/></g><path d="M907.5,1592.1 C909.3,1591.3 914.2,1588.4 918.1,1587.3 C922,1586.2 926.4,1585.3 930.6,1585.4 C934.8,1585.5 939.1,1586.4 943.1,1587.8 C947.1,1589.2 949.8,1590.1 954.6,1593.6 C959.4,1597 965,1602.8 971.9,1608.5 C978.8,1614.2 989.6,1623.5 996,1627.7 C1002.4,1631.9 1006.4,1632.9 1010.4,1633.5 C1014.4,1634.1 1015.2,1634.1 1020,1631.5 C1024.8,1628.9 1032.2,1624 1039.2,1618.1 C1046.2,1612.2 1058.5,1599.7 1062.3,1596" fill="none" stroke="#111" stroke-width="3.6" stroke-linecap="butt" stroke-linejoin="round"/><path d="M907.5,1592.1 C909.3,1591.3 914.2,1588.4 918.1,1587.3 C922,1586.2 926.4,1585.3 930.6,1585.4 C934.8,1585.5 939.1,1586.4 943.1,1587.8 C947.1,1589.2 949.8,1590.1 954.6,1593.6 C959.4,1597 965,1602.8 971.9,1608.5 C978.8,1614.2 989.6,1623.5 996,1627.7 C1002.4,1631.9 1006.4,1632.9 1010.4,1633.5 C1014.4,1634.1 1015.2,1634.1 1020,1631.5 C1024.8,1628.9 1032.2,1624 1039.2,1618.1 C1046.2,1612.2 1058.5,1599.7 1062.3,1596" fill="none" stroke="#fff" stroke-width="1.3" stroke-linecap="butt" stroke-linejoin="round"/><path d="M909.4,1595 C911.8,1594.6 918.2,1592.6 923.8,1592.6 C929.4,1592.6 936.7,1592.7 943.1,1595 C949.5,1597.3 954.3,1600.2 962.3,1606.5 C970.3,1612.8 982.4,1627 991.2,1632.5 C1000,1638 1008.8,1639.4 1015.2,1639.2 C1021.6,1639 1026.1,1633.4 1029.6,1631.5 C1033.1,1629.6 1034.9,1628.6 1036,1628" fill="none" stroke="#111" stroke-width="3.6" stroke-linecap="butt" stroke-linejoin="round"/><path d="M909.4,1595 C911.8,1594.6 918.2,1592.6 923.8,1592.6 C929.4,1592.6 936.7,1592.7 943.1,1595 C949.5,1597.3 954.3,1600.2 962.3,1606.5 C970.3,1612.8 982.4,1627 991.2,1632.5 C1000,1638 1008.8,1639.4 1015.2,1639.2 C1021.6,1639 1026.1,1633.4 1029.6,1631.5 C1033.1,1629.6 1034.9,1628.6 1036,1628" fill="none" stroke="#fff" stroke-width="1.3" stroke-linecap="butt" stroke-linejoin="round"/><path d="M912.8,1599.8 C914.6,1599.6 919.5,1598.2 923.8,1598.4 C928,1598.6 933.2,1598.8 938.3,1600.8 C943.4,1602.8 947.4,1605.3 954.6,1610.4 C961.8,1615.5 974.6,1626.4 981.5,1631.5 C988.4,1636.6 989.9,1639 996,1641.2 C1002.1,1643.5 1012.5,1645.8 1018.1,1645 C1023.7,1644.2 1024.5,1637.3 1029.6,1636.3 C1034.7,1635.3 1043.2,1637.6 1048.8,1639.2 C1054.4,1640.8 1058.5,1645.3 1063.3,1646 C1068.1,1646.7 1075.3,1643.6 1077.7,1643.1" fill="none" stroke="#111" stroke-width="3.6" stroke-linecap="butt" stroke-linejoin="round"/><path d="M912.8,1599.8 C914.6,1599.6 919.5,1598.2 923.8,1598.4 C928,1598.6 933.2,1598.8 938.3,1600.8 C943.4,1602.8 947.4,1605.3 954.6,1610.4 C961.8,1615.5 974.6,1626.4 981.5,1631.5 C988.4,1636.6 989.9,1639 996,1641.2 C1002.1,1643.5 1012.5,1645.8 1018.1,1645 C1023.7,1644.2 1024.5,1637.3 1029.6,1636.3 C1034.7,1635.3 1043.2,1637.6 1048.8,1639.2 C1054.4,1640.8 1058.5,1645.3 1063.3,1646 C1068.1,1646.7 1075.3,1643.6 1077.7,1643.1" fill="none" stroke="#fff" stroke-width="1.3" stroke-linecap="butt" stroke-linejoin="round"/><g fill="none" stroke="#111" stroke-width="1.0"><ellipse cx="995.5" cy="1629" rx="6.5" ry="19" transform="rotate(12 995.5 1629)"/><ellipse cx="995.5" cy="1629" rx="4.5" ry="17" transform="rotate(12 995.5 1629)"/><path d="M993,1638 C992.9,1640 992,1646.5 992.5,1650 C993,1653.5 994.6,1656.2 996,1659 C997.4,1661.8 1000.2,1665.7 1001,1667"/><path d="M996,1638 C995.9,1640 995.2,1646.7 995.5,1650 C995.8,1653.3 996.8,1655.3 998,1658 C999.2,1660.7 1001.8,1664.7 1002.5,1666"/><line x1="1035" y1="1633" x2="1043" y2="1626" /><line x1="1038" y1="1634" x2="1046" y2="1627" /></g><g fill="none" stroke="#111" stroke-width="2.0" stroke-linejoin="round"><path d="M1097.2,1640.9 L1181.8,1626.5 L1196.6,1608.4 L1213.6,1591.5 L1234.8,1571.3 L1260.2,1557.6 L1285.7,1548.7 L1315.4,1543.8 L1336.6,1543.8 L1364.1,1549.1 L1400.2,1561.8 L1429.8,1580.9 L1455.3,1606.3 L1472.2,1633.9 L1485,1665.7 L1491.3,1697.5 L1491.3,1720.8 L1487.1,1750.5 L1476.5,1780.2 L1461.6,1803.5 L1438.3,1828.9 L1410.8,1850.1 L1376.8,1865 L1336.6,1875.6 L1302.6,1873.4 L1264.5,1861.8 L1230.6,1843.8 L1203,1820.4 L1181.8,1792.9 L1169.1,1765.3 L1161.7,1733.5 L1159.5,1721.9 L1097.2,1642.4" fill="#fff"/><path d="M1326,1574.1 L1349.3,1574.5 L1372.6,1578.8 L1393.8,1589.4 L1415,1606.3 L1432,1623.3 L1445.7,1646.6 L1451,1665.7 L1454.2,1689 L1451,1712.3 L1446.8,1733.5 L1434.1,1761.1 L1419.2,1780.2 L1404.4,1797.1 L1379,1814.1 L1351.4,1825.7 L1326,1831 L1302.6,1833.6 L1277.2,1828.9 L1256,1820.4 L1234.8,1806.7 L1220,1790.8 L1207.2,1767.4 L1199.8,1742 L1197.7,1718.7 L1200.9,1691.1 L1207.2,1665.7 L1223.1,1640.2 L1234.8,1624.3 L1251.8,1607.4 L1277.2,1589.4 L1300.5,1579.8 Z"/><path d="M1235.3,1624.8 L1248.8,1632.6 L1261.5,1643.2 L1245.9,1656 L1233.2,1646 L1223.3,1640.4"/><path d="M1259,1646 C1260.7,1647.1 1263.1,1649.9 1269.3,1652.4 C1275.5,1654.9 1290,1657.8 1296.1,1660.9 C1302.2,1664 1304.3,1669.3 1306,1671"/><path d="M1256.5,1651 C1258.2,1652.2 1260.4,1655.5 1266.4,1658 C1272.4,1660.5 1286.7,1662.8 1292.6,1665.8 C1298.5,1668.8 1300.4,1674.3 1302,1676"/><path d="M1253.7,1652.4 C1255.6,1655.2 1261.2,1664.2 1265,1669.4 C1268.8,1674.6 1274.4,1681.2 1276.3,1683.5"/><path d="M1249.5,1653.8 C1251.2,1656.9 1255.4,1666.8 1259.4,1672.2 C1263.4,1677.6 1271.2,1684 1273.5,1686.3"/><path d="M1246.6,1652.4 C1245.2,1658.2 1238.7,1679 1238.2,1687 C1237.7,1695 1242.9,1698.2 1243.8,1700.5"/><path d="M1252.3,1655.2 C1251.1,1660.4 1245.5,1679.2 1245.2,1686.3 C1244.9,1693.4 1249.4,1695.8 1250.2,1697.7"/><path d="M1232.5,1722.4 L1243.1,1715.3 L1391.5,1735 L1400.7,1746.4 L1315.2,1785.3 Z" fill="#fff"/><line x1="1339.9" y1="1773.3" x2="1385.2" y2="1754.2" /><polygon points="1365.4,1727.3 1382.3,1721.7 1317.8,1675.5 1300.9,1681.1" fill="#fff"/><polygon points="1365.4,1727.3 1371.7,1745.7 1307.2,1699.5 1300.9,1681.1" fill="#fff"/><polygon points="1365.4,1727.3 1382.3,1721.7 1388.7,1737.2 1371.7,1745.7" fill="#fff"/><circle cx="1376.7" cy="1734.4" r="6.2" fill="#fff"/><circle cx="1376.7" cy="1734.4" r="2.6"/><path d="M1312.5,1666.5 L1312.5,1678.5 C1312.5,1686.9 1316.6,1690.5 1320.8,1690.5 C1325.0,1690.5 1329.1,1686.9 1329.1,1678.5 L1329.1,1666.5 Z" fill="#fff"/><ellipse cx="1320.8" cy="1666.5" rx="8.3" ry="3.6" fill="#fff"/><path d="M1314.2,1666.5 L1327.4,1666.5 M1320.8,1663.4 L1320.8,1669.6" stroke-width="1.1"/><path d="M1347.2,1694.8 L1347.2,1706.8 C1347.2,1715.2 1351.3,1718.8 1355.5,1718.8 C1359.7,1718.8 1363.8,1715.2 1363.8,1706.8 L1363.8,1694.8 Z" fill="#fff"/><ellipse cx="1355.5" cy="1694.8" rx="8.3" ry="3.6" fill="#fff"/><path d="M1348.9,1694.8 L1362.1,1694.8 M1355.5,1691.7 L1355.5,1697.9" stroke-width="1.1"/><polygon points="1336.4,1740 1352.6,1733.7 1288.1,1687.5 1271.9,1693.8" fill="#fff"/><polygon points="1336.4,1740 1342.8,1758.4 1278.3,1712.2 1271.9,1693.8" fill="#fff"/><polygon points="1336.4,1740 1352.6,1733.7 1360.4,1751.3 1342.8,1758.4" fill="#fff"/><circle cx="1347.7" cy="1745.7" r="6.2" fill="#fff"/><circle cx="1347.7" cy="1745.7" r="2.6"/><path d="M1283.6,1680.0 L1283.6,1692.0 C1283.6,1700.4 1287.8,1704.0 1291.9,1704.0 C1296.1,1704.0 1300.2,1700.4 1300.2,1692.0 L1300.2,1680.0 Z" fill="#fff"/><ellipse cx="1291.9" cy="1680.0" rx="8.3" ry="3.6" fill="#fff"/><path d="M1285.3,1680.0 L1298.5,1680.0 M1291.9,1676.9 L1291.9,1683.1" stroke-width="1.1"/><path d="M1317.5,1706.8 L1317.5,1718.8 C1317.5,1727.2 1321.6,1730.8 1325.8,1730.8 C1330.0,1730.8 1334.1,1727.2 1334.1,1718.8 L1334.1,1706.8 Z" fill="#fff"/><ellipse cx="1325.8" cy="1706.8" rx="8.3" ry="3.6" fill="#fff"/><path d="M1319.2,1706.8 L1332.4,1706.8 M1325.8,1703.7 L1325.8,1709.9" stroke-width="1.1"/><polygon points="1307.4,1751.3 1321.6,1745.7 1257.1,1699.5 1242.9,1705.1" fill="#fff"/><polygon points="1307.4,1751.3 1315.9,1769.7 1251.4,1723.5 1242.9,1705.1" fill="#fff"/><polygon points="1307.4,1751.3 1321.6,1745.7 1332.2,1762.7 1315.9,1769.7" fill="#fff"/><circle cx="1320.1" cy="1757.7" r="6.2" fill="#fff"/><circle cx="1320.1" cy="1757.7" r="2.6"/><path d="M1254.6,1692.0 L1254.6,1704.0 C1254.6,1712.4 1258.8,1716.0 1262.9,1716.0 C1267.1,1716.0 1271.2,1712.4 1271.2,1704.0 L1271.2,1692.0 Z" fill="#fff"/><ellipse cx="1262.9" cy="1692.0" rx="8.3" ry="3.6" fill="#fff"/><path d="M1256.3,1692.0 L1269.5,1692.0 M1262.9,1688.9 L1262.9,1695.1" stroke-width="1.1"/><path d="M1289.2,1718.8 L1289.2,1730.8 C1289.2,1739.2 1293.3,1742.8 1297.5,1742.8 C1301.7,1742.8 1305.8,1739.2 1305.8,1730.8 L1305.8,1718.8 Z" fill="#fff"/><ellipse cx="1297.5" cy="1718.8" rx="8.3" ry="3.6" fill="#fff"/><path d="M1290.9,1718.8 L1304.1,1718.8 M1297.5,1715.7 L1297.5,1721.9" stroke-width="1.1"/><path d="M1317.3,1764.1 C1321.3,1767.6 1335.6,1778.9 1341.3,1785.3 C1347,1791.7 1349.5,1799.4 1351.2,1802.2"/><path d="M1323,1759.8 C1325.8,1762.4 1334.2,1768.8 1339.9,1775.4 C1345.6,1782 1354.1,1795.4 1356.9,1799.4"/><line x1="1351.2" y1="1802.2" x2="1356.9" y2="1799.4" /><path d="M1347,1752.8 C1352,1758.8 1371.8,1782.8 1376.7,1788.8"/><path d="M1354.1,1749.9 C1358.7,1755.9 1377,1780 1381.6,1786"/><line x1="1376.7" y1="1788.8" x2="1381.6" y2="1786" /><path d="M1378.1,1741.4 C1382.3,1746.2 1399.3,1765.6 1403.5,1770.4"/><path d="M1383.7,1739.3 C1387.7,1743.7 1403.8,1761.1 1407.8,1765.5"/><line x1="1403.5" y1="1770.4" x2="1407.8" y2="1765.5" /><path d="M1353.4,1803 L1366.1,1834 L1390.1,1834"/><path d="M1382.3,1786 L1395,1818.5 L1418.4,1818.5"/><path d="M1407.8,1765.5 L1420.5,1798.7 L1443.8,1798.7"/><path d="M1396.5,1843.2 L1396.5,1826.3 L1407.5,1843.2 L1407.5,1826.3"/><path d="M1434.8,1810.7 L1423.8,1810.7 L1423.8,1827.0 L1434.8,1827.0 M1423.8,1818.9 L1432.6,1818.9"/><path d="M1449.3,1790.2 L1449.3,1807.2 L1459.3,1807.2"/></g><g fill="none" stroke="#111" stroke-width="2.0"><path d="M809.4,2294.5 L809.4,2233.2 A209.6,27 0 0 1 1228.7,2233.2 L1228.7,2294.5"/><ellipse cx="1019" cy="2294.4" rx="209.6" ry="28"/><ellipse cx="875.9" cy="2296.4" rx="15.8" ry="7.8"/><ellipse cx="1162.8" cy="2296.4" rx="15.8" ry="7.8"/></g><g fill="none" stroke="#111" stroke-width="2.0" stroke-linejoin="round"><path d="M894.5,2480.6 L894.5,2440 A126,49.5 0 0 1 1146.5,2440 L1146.5,2480.6"/><path d="M810.5,2526.8 L819.2,2515.2 L828,2508 L836.8,2502.3 L845.5,2497.7 L854.2,2493.7 L863,2490.2 L871.8,2487.2 L880.5,2484.4 L889.2,2482 L898,2479.8 L906.8,2477.8 L915.5,2476 L924.2,2474.4 L933,2473 L941.8,2471.7 L950.5,2470.6 L959.2,2469.7 L968,2468.8 L976.8,2468.1 L985.5,2467.6 L994.2,2467.2 L1003,2466.8 L1011.8,2466.7 L1020.5,2466.6 L1029.2,2466.7 L1038,2466.8 L1046.8,2467.2 L1055.5,2467.6 L1064.2,2468.1 L1073,2468.8 L1081.8,2469.7 L1090.5,2470.6 L1099.2,2471.7 L1108,2473 L1116.8,2474.4 L1125.5,2476 L1134.2,2477.8 L1143,2479.8 L1151.8,2482 L1160.5,2484.4 L1169.2,2487.2 L1178,2490.2 L1186.8,2493.7 L1195.5,2497.7 L1204.2,2502.3 L1213,2508 L1221.8,2515.2 L1230.5,2526.8"/><path d="M810.5,2562.5 L819.2,2550.5 L828,2543 L836.8,2537.2 L845.5,2532.4 L854.2,2528.3 L863,2524.7 L871.8,2521.5 L880.5,2518.7 L889.2,2516.2 L898,2513.9 L906.8,2511.8 L915.5,2510 L924.2,2508.4 L933,2506.9 L941.8,2505.6 L950.5,2504.4 L959.2,2503.5 L968,2502.6 L976.8,2501.9 L985.5,2501.3 L994.2,2500.9 L1003,2500.6 L1011.8,2500.4 L1020.5,2500.3 L1029.2,2500.4 L1038,2500.6 L1046.8,2500.9 L1055.5,2501.3 L1064.2,2501.9 L1073,2502.6 L1081.8,2503.5 L1090.5,2504.4 L1099.2,2505.6 L1108,2506.9 L1116.8,2508.4 L1125.5,2510 L1134.2,2511.8 L1143,2513.9 L1151.8,2516.2 L1160.5,2518.7 L1169.2,2521.5 L1178,2524.7 L1186.8,2528.3 L1195.5,2532.4 L1204.2,2537.2 L1213,2543 L1221.8,2550.5 L1230.5,2562.5"/><path d="M810.5,2614.3 L819.2,2589.8 L828,2580.1 L836.8,2572.9 L845.5,2567 L854.2,2562 L863,2557.7 L871.8,2553.9 L880.5,2550.5 L889.2,2547.5 L898,2544.8 L906.8,2542.3 L915.5,2540.2 L924.2,2538.2 L933,2536.5 L941.8,2534.9 L950.5,2533.6 L959.2,2532.4 L968,2531.4 L976.8,2530.6 L985.5,2529.9 L994.2,2529.4 L1003,2529 L1011.8,2528.8 L1020.5,2528.7 L1029.2,2528.8 L1038,2529 L1046.8,2529.4 L1055.5,2529.9 L1064.2,2530.6 L1073,2531.4 L1081.8,2532.4 L1090.5,2533.6 L1099.2,2534.9 L1108,2536.5 L1116.8,2538.2 L1125.5,2540.2 L1134.2,2542.3 L1143,2544.8 L1151.8,2547.5 L1160.5,2550.5 L1169.2,2553.9 L1178,2557.7 L1186.8,2562 L1195.5,2567 L1204.2,2572.9 L1213,2580.1 L1221.8,2589.8 L1230.5,2614.3"/><ellipse cx="1020.5" cy="2632" rx="210" ry="83.5"/><ellipse cx="1020.5" cy="2631.5" rx="196.5" ry="77"/><line x1="810.5" y1="2526.8" x2="810.5" y2="2632" /><line x1="1230.5" y1="2526.8" x2="1230.5" y2="2632" /><g stroke-width="2.00"><line x1="823.9" y1="2511.1" x2="823.9" y2="2546.3" /><line x1="844.1" y1="2498.4" x2="844.1" y2="2533.1" /><line x1="863.1" y1="2490.2" x2="863.1" y2="2524.7" /><line x1="881.6" y1="2484.1" x2="881.6" y2="2518.4" /><line x1="899.8" y1="2479.3" x2="899.8" y2="2513.5" /><line x1="918.1" y1="2475.5" x2="918.1" y2="2509.5" /><line x1="938.4" y1="2472.2" x2="938.4" y2="2506.1" /><line x1="957.1" y1="2469.9" x2="957.1" y2="2503.7" /><line x1="974.4" y1="2468.3" x2="974.4" y2="2502.1" /><line x1="989.9" y1="2467.3" x2="989.9" y2="2501.1" /><line x1="1007.1" y1="2466.7" x2="1007.1" y2="2500.4" /><line x1="1033.8" y1="2466.7" x2="1033.8" y2="2500.4" /><line x1="1049.7" y1="2467.3" x2="1049.7" y2="2501" /><line x1="1066.6" y1="2468.3" x2="1066.6" y2="2502.1" /><line x1="1084.3" y1="2469.9" x2="1084.3" y2="2503.7" /><line x1="1102.7" y1="2472.2" x2="1102.7" y2="2506.1" /><line x1="1122.4" y1="2475.4" x2="1122.4" y2="2509.4" /><line x1="1140.9" y1="2479.3" x2="1140.9" y2="2513.4" /><line x1="1159.9" y1="2484.2" x2="1159.9" y2="2518.5" /><line x1="1178.4" y1="2490.4" x2="1178.4" y2="2524.9" /><line x1="1197.5" y1="2498.7" x2="1197.5" y2="2533.4" /><line x1="1216.1" y1="2510.3" x2="1216.1" y2="2545.4" /><line x1="819.5" y1="2589.5" x2="819.5" y2="2607.8" /><line x1="828.6" y1="2579.5" x2="828.6" y2="2598.1" /><line x1="837.7" y1="2572.2" x2="837.7" y2="2590.9" /><line x1="846.8" y1="2566.2" x2="846.8" y2="2585.1" /><line x1="855.9" y1="2561.1" x2="855.9" y2="2580.1" /><line x1="865" y1="2556.8" x2="865" y2="2575.9" /><line x1="874.1" y1="2552.9" x2="874.1" y2="2572.1" /><line x1="883.2" y1="2549.5" x2="883.2" y2="2568.8" /><line x1="892.3" y1="2546.5" x2="892.3" y2="2565.9" /><line x1="901.4" y1="2543.8" x2="901.4" y2="2563.2" /><line x1="910.5" y1="2541.4" x2="910.5" y2="2560.9" /><line x1="919.6" y1="2539.2" x2="919.6" y2="2558.8" /><line x1="928.7" y1="2537.3" x2="928.7" y2="2556.9" /><line x1="937.8" y1="2535.6" x2="937.8" y2="2555.2" /><line x1="946.9" y1="2534.1" x2="946.9" y2="2553.8" /><line x1="956" y1="2532.8" x2="956" y2="2552.5" /><line x1="965.1" y1="2531.7" x2="965.1" y2="2551.5" /><line x1="974.2" y1="2530.8" x2="974.2" y2="2550.6" /><line x1="983.3" y1="2530.1" x2="983.3" y2="2549.8" /><line x1="992.4" y1="2529.5" x2="992.4" y2="2549.3" /><line x1="1001.5" y1="2529.1" x2="1001.5" y2="2548.8" /><line x1="1010.6" y1="2528.8" x2="1010.6" y2="2548.6" /><line x1="1019.7" y1="2528.7" x2="1019.7" y2="2548.5" /><line x1="1028.8" y1="2528.8" x2="1028.8" y2="2548.6" /><line x1="1037.9" y1="2529" x2="1037.9" y2="2548.8" /><line x1="1047" y1="2529.4" x2="1047" y2="2549.2" /><line x1="1056.1" y1="2529.9" x2="1056.1" y2="2549.7" /><line x1="1065.2" y1="2530.7" x2="1065.2" y2="2550.4" /><line x1="1074.3" y1="2531.6" x2="1074.3" y2="2551.3" /><line x1="1083.4" y1="2532.6" x2="1083.4" y2="2552.3" /><line x1="1092.5" y1="2533.9" x2="1092.5" y2="2553.6" /><line x1="1101.6" y1="2535.3" x2="1101.6" y2="2555" /><line x1="1110.7" y1="2537" x2="1110.7" y2="2556.6" /><line x1="1119.8" y1="2538.9" x2="1119.8" y2="2558.4" /><line x1="1128.9" y1="2541" x2="1128.9" y2="2560.5" /><line x1="1138" y1="2543.4" x2="1138" y2="2562.8" /><line x1="1147.1" y1="2546" x2="1147.1" y2="2565.4" /><line x1="1156.2" y1="2549" x2="1156.2" y2="2568.3" /><line x1="1165.3" y1="2552.3" x2="1165.3" y2="2571.5" /><line x1="1174.4" y1="2556.1" x2="1174.4" y2="2575.2" /><line x1="1183.5" y1="2560.3" x2="1183.5" y2="2579.4" /><line x1="1192.6" y1="2565.2" x2="1192.6" y2="2584.2" /><line x1="1201.7" y1="2571" x2="1201.7" y2="2589.8" /><line x1="1210.8" y1="2578.1" x2="1210.8" y2="2596.7" /><line x1="1219.9" y1="2587.4" x2="1219.9" y2="2605.8" /></g></g><g stroke="#111" stroke-width="1.7"><line x1="1295.9" y1="2458" x2="1295.9" y2="2603.2" /></g><polygon points="1295.6,2410.3 1279.6,2459.3 1311.2,2459.3" fill="#111"/><g stroke="#111" stroke-width="2.0" fill="none"><line x1="2259.9" y1="1699.2" x2="3269.7" y2="1699.2" /><line x1="2259.9" y1="1740.3" x2="3269.7" y2="1740.3" /><line x1="2564.1" y1="1699.2" x2="2564.1" y2="1740.3" /><line x1="3005.1" y1="1699.2" x2="3005.1" y2="1740.3" /><g stroke-width="1.80"><line x1="2282.9" y1="1699.2" x2="2259.9" y2="1722.2" /><line x1="2309.4" y1="1699.2" x2="2268.3" y2="1740.3" /><line x1="2335.8" y1="1699.2" x2="2294.7" y2="1740.3" /><line x1="2362.3" y1="1699.2" x2="2321.2" y2="1740.3" /><line x1="2388.8" y1="1699.2" x2="2347.7" y2="1740.3" /><line x1="2415.2" y1="1699.2" x2="2374.1" y2="1740.3" /><line x1="2441.7" y1="1699.2" x2="2400.6" y2="1740.3" /><line x1="2468.2" y1="1699.2" x2="2427.1" y2="1740.3" /><line x1="2494.7" y1="1699.2" x2="2453.6" y2="1740.3" /><line x1="2521.1" y1="1699.2" x2="2480" y2="1740.3" /><line x1="2547.6" y1="1699.2" x2="2506.5" y2="1740.3" /><line x1="2564.1" y1="1709.2" x2="2533" y2="1740.3" /><line x1="2564.1" y1="1735.6" x2="2559.4" y2="1740.3" /><line x1="3024.1" y1="1699.2" x2="3005.1" y2="1718.2" /><line x1="3050.5" y1="1699.2" x2="3009.4" y2="1740.3" /><line x1="3077" y1="1699.2" x2="3035.9" y2="1740.3" /><line x1="3103.5" y1="1699.2" x2="3062.4" y2="1740.3" /><line x1="3129.9" y1="1699.2" x2="3088.8" y2="1740.3" /><line x1="3156.4" y1="1699.2" x2="3115.3" y2="1740.3" /><line x1="3182.9" y1="1699.2" x2="3141.8" y2="1740.3" /><line x1="3209.3" y1="1699.2" x2="3168.2" y2="1740.3" /><line x1="3235.8" y1="1699.2" x2="3194.7" y2="1740.3" /><line x1="3262.3" y1="1699.2" x2="3221.2" y2="1740.3" /><line x1="3269.7" y1="1718.3" x2="3247.7" y2="1740.3" /></g></g><rect x="2564.1" y="1699.3" width="441" height="41.1" fill="none" stroke="#000" stroke-width="2.5"/><path d="M2375,1642.5 C2372.9,1644.2 2365.9,1648.6 2362.2,1652.4 C2358.5,1656.2 2354.5,1661 2352.6,1665.3 C2350.7,1669.6 2350.3,1673.8 2350.6,1678.1 C2350.9,1682.4 2352.3,1686.9 2354.2,1690.9 C2356.1,1694.9 2359.3,1697.6 2362.2,1702.1 C2365.1,1706.6 2369.9,1713.5 2371.8,1718.1 C2373.7,1722.6 2374,1725.1 2373.7,1729.4 C2373.4,1733.7 2372.1,1739.5 2370.2,1743.8 C2368.3,1748.1 2368.1,1749.1 2362.2,1755 C2356.3,1760.9 2339.4,1775.3 2334.9,1779.4 L2368.1,1780.6 2394.2,1755 2403,1742.2 2406.3,1729.4 2403.8,1717.3 2394.2,1702.1 2386.2,1690.9 2383.3,1679.7 2385.4,1668.5 2394.2,1655.6 2408.3,1643.6 Z" fill="#fff" stroke="none"/><path d="M2375,1642.5 C2372.9,1644.2 2365.9,1648.6 2362.2,1652.4 C2358.5,1656.2 2354.5,1661 2352.6,1665.3 C2350.7,1669.6 2350.3,1673.8 2350.6,1678.1 C2350.9,1682.4 2352.3,1686.9 2354.2,1690.9 C2356.1,1694.9 2359.3,1697.6 2362.2,1702.1 C2365.1,1706.6 2369.9,1713.5 2371.8,1718.1 C2373.7,1722.6 2374,1725.1 2373.7,1729.4 C2373.4,1733.7 2372.1,1739.5 2370.2,1743.8 C2368.3,1748.1 2368.1,1749.1 2362.2,1755 C2356.3,1760.9 2339.4,1775.3 2334.9,1779.4" fill="none" stroke="#111" stroke-width="2.0"/><path d="M2408.3,1643.6 C2406,1645.6 2398,1651.4 2394.2,1655.6 C2390.4,1659.8 2387.2,1664.5 2385.4,1668.5 C2383.6,1672.5 2383.2,1676 2383.3,1679.7 C2383.4,1683.4 2384.4,1687.2 2386.2,1690.9 C2388,1694.6 2391.3,1697.7 2394.2,1702.1 C2397.1,1706.5 2401.8,1712.8 2403.8,1717.3 C2405.8,1721.8 2406.4,1725.2 2406.3,1729.4 C2406.2,1733.6 2405,1737.9 2403,1742.2 C2401,1746.5 2400,1748.6 2394.2,1755 C2388.4,1761.4 2372.4,1776.3 2368.1,1780.6" fill="none" stroke="#111" stroke-width="2.0"/><path d="M3157.5,1642.5 C3155.4,1644.2 3148.4,1648.6 3144.7,1652.4 C3141,1656.2 3137,1661 3135.1,1665.3 C3133.2,1669.6 3132.8,1673.8 3133.1,1678.1 C3133.4,1682.4 3134.8,1686.9 3136.7,1690.9 C3138.6,1694.9 3141.8,1697.6 3144.7,1702.1 C3147.6,1706.6 3152.4,1713.5 3154.3,1718.1 C3156.2,1722.6 3156.5,1725.1 3156.2,1729.4 C3155.9,1733.7 3154.6,1739.5 3152.7,1743.8 C3150.8,1748.1 3150.6,1749.1 3144.7,1755 C3138.8,1760.9 3121.9,1775.3 3117.4,1779.4 L3150.6,1780.6 3176.7,1755 3185.5,1742.2 3188.8,1729.4 3186.3,1717.3 3176.7,1702.1 3168.7,1690.9 3165.8,1679.7 3167.9,1668.5 3176.7,1655.6 3190.8,1643.6 Z" fill="#fff" stroke="none"/><path d="M3157.5,1642.5 C3155.4,1644.2 3148.4,1648.6 3144.7,1652.4 C3141,1656.2 3137,1661 3135.1,1665.3 C3133.2,1669.6 3132.8,1673.8 3133.1,1678.1 C3133.4,1682.4 3134.8,1686.9 3136.7,1690.9 C3138.6,1694.9 3141.8,1697.6 3144.7,1702.1 C3147.6,1706.6 3152.4,1713.5 3154.3,1718.1 C3156.2,1722.6 3156.5,1725.1 3156.2,1729.4 C3155.9,1733.7 3154.6,1739.5 3152.7,1743.8 C3150.8,1748.1 3150.6,1749.1 3144.7,1755 C3138.8,1760.9 3121.9,1775.3 3117.4,1779.4" fill="none" stroke="#111" stroke-width="2.0"/><path d="M3190.8,1643.6 C3188.5,1645.6 3180.5,1651.4 3176.7,1655.6 C3172.9,1659.8 3169.7,1664.5 3167.9,1668.5 C3166.1,1672.5 3165.7,1676 3165.8,1679.7 C3165.9,1683.4 3166.9,1687.2 3168.7,1690.9 C3170.5,1694.6 3173.8,1697.7 3176.7,1702.1 C3179.6,1706.5 3184.3,1712.8 3186.3,1717.3 C3188.3,1721.8 3188.9,1725.2 3188.8,1729.4 C3188.7,1733.6 3187.5,1737.9 3185.5,1742.2 C3183.5,1746.5 3182.5,1748.6 3176.7,1755 C3170.9,1761.4 3154.9,1776.3 3150.6,1780.6" fill="none" stroke="#111" stroke-width="2.0"/><g fill="#fff" stroke="#111" stroke-width="1.6" stroke-linejoin="round"><polygon points="2522.6,1797.4 2568.5,1784.6 2623.5,1889.5 2600,1906"/><polygon points="2526.5,1799 2566.5,1788 2619.5,1889 2601,1902" fill="none" stroke-width="1.0"/><polygon points="3031.1,1794.4 3073.6,1798.7 2988.6,1929.3 2964.7,1929.3"/><polyline points="3031.1,1794.4 3067,1800.5 2984,1929" fill="none" stroke-width="1.0"/></g><g fill="#fff" stroke="#111" stroke-width="2.0" stroke-linejoin="round"><path d="M2600.5,2030 L2600.5,2236 A185,30 0 0 0 2970.5,2236 L2970.5,2030 Z"/><path d="M2518.6,2011.7 A266.7,45.5 0 0 1 3051.9,2011.7 L3051.9,2033 A266.7,47.7 0 0 1 2518.6,2033 Z"/><path d="M2518.6,2011.7 A266.7,45.5 0 0 0 3051.9,2011.7" fill="none"/><path d="M2580.2,1921 A205,35.6 0 0 1 2990,1921 L2990,2009 A205,33.7 0 0 1 2580.2,2009 Z"/><path d="M2580.2,1921 A205,35.6 0 0 0 2990,1921" fill="none"/></g><g transform="translate(2614.0,1900.3) rotate(-18.4)"><rect x="-17.5" y="-7.5" width="35.0" height="15.0" rx="7.5" fill="#000" stroke="#000" stroke-width="1.2"/><ellipse cx="-10.0" cy="0" rx="4.0" ry="5.3" fill="none" stroke="#fff" stroke-width="1.0"/><path d="M-7.1,-4.5 Q-5.1,0 -7.1,4.5" fill="none" stroke="#fff" stroke-width="0.6" opacity="0.6"/><path d="M-4.3,-4.5 Q-2.3,0 -4.3,4.5" fill="none" stroke="#fff" stroke-width="0.6" opacity="0.6"/><path d="M-1.4,-4.5 Q0.6,0 -1.4,4.5" fill="none" stroke="#fff" stroke-width="0.6" opacity="0.6"/><path d="M1.4,-4.5 Q3.4,0 1.4,4.5" fill="none" stroke="#fff" stroke-width="0.6" opacity="0.6"/><path d="M4.3,-4.5 Q6.3,0 4.3,4.5" fill="none" stroke="#fff" stroke-width="0.6" opacity="0.6"/><path d="M7.1,-4.5 Q9.1,0 7.1,4.5" fill="none" stroke="#fff" stroke-width="0.6" opacity="0.6"/></g><g transform="translate(2970.0,1936.0) rotate(-20)"><rect x="-17.5" y="-7.5" width="35.0" height="15.0" rx="7.5" fill="#000" stroke="#000" stroke-width="1.2"/><ellipse cx="-10.0" cy="0" rx="4.0" ry="5.3" fill="none" stroke="#fff" stroke-width="1.0"/><path d="M-7.1,-4.5 Q-5.1,0 -7.1,4.5" fill="none" stroke="#fff" stroke-width="0.6" opacity="0.6"/><path d="M-4.3,-4.5 Q-2.3,0 -4.3,4.5" fill="none" stroke="#fff" stroke-width="0.6" opacity="0.6"/><path d="M-1.4,-4.5 Q0.6,0 -1.4,4.5" fill="none" stroke="#fff" stroke-width="0.6" opacity="0.6"/><path d="M1.4,-4.5 Q3.4,0 1.4,4.5" fill="none" stroke="#fff" stroke-width="0.6" opacity="0.6"/><path d="M4.3,-4.5 Q6.3,0 4.3,4.5" fill="none" stroke="#fff" stroke-width="0.6" opacity="0.6"/><path d="M7.1,-4.5 Q9.1,0 7.1,4.5" fill="none" stroke="#fff" stroke-width="0.6" opacity="0.6"/></g><g fill="none" stroke="#111" stroke-width="2.0"><path d="M2702.3,1566.8 C2700.2,1572.2 2693.3,1588.7 2689.5,1599.5 C2685.7,1610.3 2682,1619.2 2679.6,1631.6 C2677.2,1644 2675.3,1661.7 2675.1,1673.7 C2674.9,1685.7 2675.7,1692.3 2678.3,1703.4 C2680.9,1714.5 2685.1,1727.3 2690.7,1740.5 C2696.3,1753.7 2704.5,1768.2 2711.7,1782.6 C2718.9,1797 2727,1811.4 2734,1827.1 C2741,1842.8 2748,1860.9 2753.8,1876.6 C2759.6,1892.3 2764.1,1907.9 2768.6,1921.1 C2773.1,1934.3 2778.9,1949.9 2781,1955.7"/><path d="M2706.8,1569.8 C2705,1575.2 2698.9,1591.7 2695.7,1602 C2692.5,1612.3 2689.3,1620.5 2687.5,1631.6 C2685.7,1642.7 2684.9,1657.7 2685,1668.8 C2685.1,1679.9 2685.4,1686.5 2688.2,1698.4 C2691,1710.4 2696.3,1727.3 2701.9,1740.5 C2707.5,1753.7 2714.2,1764 2721.6,1777.6 C2729,1791.2 2738.6,1806.4 2746.4,1822.1 C2754.2,1837.8 2762.4,1855.9 2768.6,1871.6 C2774.8,1887.3 2779,1902.2 2783.5,1916.2 C2788,1930.2 2793.4,1949.1 2795.4,1955.7"/><line x1="2702.3" y1="1566.8" x2="2706.8" y2="1569.8" /></g><g transform="translate(2807.7,1564.3) rotate(-15) scale(0.665)" fill="#fff" stroke="#111" stroke-width="1.35"><rect x="22.7" y="2.0" width="19" height="11.5"/><rect x="22.7" y="23.8" width="19" height="11.5"/><rect x="22.7" y="45.6" width="19" height="11.5"/><rect x="0" y="0" width="22.7" height="65.4"/><rect x="4" y="3.4" width="15" height="15" rx="4"/><circle cx="11.5" cy="10.9" r="3.6"/><circle cx="11.5" cy="10.9" r="1.2" fill="#111"/><line x1="0" y1="21.8" x2="22.7" y2="21.8"/><rect x="4" y="25.2" width="15" height="15" rx="4"/><circle cx="11.5" cy="32.7" r="3.6"/><circle cx="11.5" cy="32.7" r="1.2" fill="#111"/><line x1="0" y1="43.6" x2="22.7" y2="43.6"/><rect x="4" y="47.0" width="15" height="15" rx="4"/><circle cx="11.5" cy="54.5" r="3.6"/><circle cx="11.5" cy="54.5" r="1.2" fill="#111"/></g><path d="M2703.5,1566 C2705.2,1565.2 2710.2,1562.2 2714,1561.5 C2717.8,1560.8 2721,1560.1 2726,1561.5 C2731,1562.9 2738.4,1566 2743.9,1569.8 C2749.4,1573.6 2754.3,1580.4 2758.8,1584.6 C2763.3,1588.8 2766.2,1593.5 2771.1,1595 C2776,1596.5 2781.4,1597.6 2788.4,1593.8 C2795.4,1590 2809.1,1575.9 2813.2,1572.3" fill="none" stroke="#111" stroke-width="2.8" stroke-linecap="butt" stroke-linejoin="round"/><path d="M2703.5,1566 C2705.2,1565.2 2710.2,1562.2 2714,1561.5 C2717.8,1560.8 2721,1560.1 2726,1561.5 C2731,1562.9 2738.4,1566 2743.9,1569.8 C2749.4,1573.6 2754.3,1580.4 2758.8,1584.6 C2763.3,1588.8 2766.2,1593.5 2771.1,1595 C2776,1596.5 2781.4,1597.6 2788.4,1593.8 C2795.4,1590 2809.1,1575.9 2813.2,1572.3" fill="none" stroke="#fff" stroke-width="0.9" stroke-linecap="butt" stroke-linejoin="round"/><path d="M2704.5,1568 C2706.4,1567.5 2712.1,1565.3 2716,1565 C2719.9,1564.7 2723.7,1564.5 2728,1566 C2732.3,1567.5 2737.3,1570.3 2742,1574 C2746.7,1577.7 2751.7,1584 2756,1588 C2760.3,1592 2763,1596.2 2768,1598 C2773,1599.8 2782,1598.8 2786,1598.5 C2790,1598.2 2791,1596.4 2792,1596" fill="none" stroke="#111" stroke-width="2.8" stroke-linecap="butt" stroke-linejoin="round"/><path d="M2704.5,1568 C2706.4,1567.5 2712.1,1565.3 2716,1565 C2719.9,1564.7 2723.7,1564.5 2728,1566 C2732.3,1567.5 2737.3,1570.3 2742,1574 C2746.7,1577.7 2751.7,1584 2756,1588 C2760.3,1592 2763,1596.2 2768,1598 C2773,1599.8 2782,1598.8 2786,1598.5 C2790,1598.2 2791,1596.4 2792,1596" fill="none" stroke="#fff" stroke-width="0.9" stroke-linecap="butt" stroke-linejoin="round"/><path d="M2706,1570 C2708,1569.8 2714,1568.8 2718,1569 C2722,1569.2 2726.2,1569.3 2730,1571 C2733.8,1572.7 2737,1575.5 2741,1579 C2745,1582.5 2749.7,1588.3 2754,1592 C2758.3,1595.7 2760.4,1599.6 2767,1601 C2773.6,1602.4 2785.7,1599.7 2793.4,1600.5 C2801.1,1601.3 2807.4,1605.5 2813.2,1605.7 C2819,1606 2825.5,1602.6 2828,1602" fill="none" stroke="#111" stroke-width="2.8" stroke-linecap="butt" stroke-linejoin="round"/><path d="M2706,1570 C2708,1569.8 2714,1568.8 2718,1569 C2722,1569.2 2726.2,1569.3 2730,1571 C2733.8,1572.7 2737,1575.5 2741,1579 C2745,1582.5 2749.7,1588.3 2754,1592 C2758.3,1595.7 2760.4,1599.6 2767,1601 C2773.6,1602.4 2785.7,1599.7 2793.4,1600.5 C2801.1,1601.3 2807.4,1605.5 2813.2,1605.7 C2819,1606 2825.5,1602.6 2828,1602" fill="none" stroke="#fff" stroke-width="0.9" stroke-linecap="butt" stroke-linejoin="round"/><g fill="none" stroke="#111" stroke-width="0.9"><ellipse cx="2765" cy="1592.5" rx="4.8" ry="13" transform="rotate(12 2765 1592.5)"/><ellipse cx="2765" cy="1592.5" rx="3.3" ry="11.5" transform="rotate(12 2765 1592.5)"/><path d="M2764,1600 C2764,1601.5 2763.5,1606.5 2764,1609 C2764.5,1611.5 2765.9,1613 2767,1615 C2768.1,1617 2770,1620 2770.6,1621"/><path d="M2766,1600 C2766,1601.4 2765.6,1606.2 2766,1608.5 C2766.4,1610.8 2767.5,1612.1 2768.5,1614 C2769.5,1615.9 2771.4,1619 2772,1620"/></g><g fill="none" stroke="#111" stroke-width="2.0"><line x1="2773.6" y1="2266" x2="2773.6" y2="2287.5" /><line x1="2793.6" y1="2266" x2="2793.6" y2="2287.5" /></g><g fill="none" stroke="#111" stroke-width="1.8" stroke-linejoin="round"><path d="M2694.5,2352.1 L2694.5,2322.3 A91.7,35.3 0 0 1 2877.9,2322.3 L2877.9,2352.1"/><path d="M2633,2385.8 L2639.4,2377.3 L2645.8,2372 L2652.2,2367.9 L2658.5,2364.6 L2664.9,2361.7 L2671.3,2359.1 L2677.7,2356.9 L2684.1,2354.9 L2690.4,2353.1 L2696.8,2351.5 L2703.2,2350 L2709.6,2348.7 L2716,2347.6 L2722.4,2346.6 L2728.8,2345.6 L2735.1,2344.8 L2741.5,2344.1 L2747.9,2343.5 L2754.3,2343 L2760.7,2342.6 L2767,2342.3 L2773.4,2342.1 L2779.8,2341.9 L2786.2,2341.9 L2792.6,2341.9 L2799,2342.1 L2805.3,2342.3 L2811.7,2342.6 L2818.1,2343 L2824.5,2343.5 L2830.9,2344.1 L2837.3,2344.8 L2843.6,2345.6 L2850,2346.6 L2856.4,2347.6 L2862.8,2348.7 L2869.2,2350 L2875.6,2351.5 L2881.9,2353.1 L2888.3,2354.9 L2894.7,2356.9 L2901.1,2359.1 L2907.5,2361.7 L2913.9,2364.6 L2920.2,2367.9 L2926.6,2372 L2933,2377.3 L2939.4,2385.8"/><path d="M2633,2411.7 L2639.4,2402.9 L2645.8,2397.5 L2652.2,2393.2 L2658.5,2389.7 L2664.9,2386.7 L2671.3,2384.1 L2677.7,2381.8 L2684.1,2379.7 L2690.4,2377.9 L2696.8,2376.2 L2703.2,2374.7 L2709.6,2373.4 L2716,2372.2 L2722.4,2371.1 L2728.8,2370.2 L2735.1,2369.3 L2741.5,2368.6 L2747.9,2368 L2754.3,2367.5 L2760.7,2367 L2767,2366.7 L2773.4,2366.5 L2779.8,2366.3 L2786.2,2366.3 L2792.6,2366.3 L2799,2366.5 L2805.3,2366.7 L2811.7,2367 L2818.1,2367.5 L2824.5,2368 L2830.9,2368.6 L2837.3,2369.3 L2843.6,2370.2 L2850,2371.1 L2856.4,2372.2 L2862.8,2373.4 L2869.2,2374.7 L2875.6,2376.2 L2881.9,2377.9 L2888.3,2379.7 L2894.7,2381.8 L2901.1,2384.1 L2907.5,2386.7 L2913.9,2389.7 L2920.2,2393.2 L2926.6,2397.5 L2933,2402.9 L2939.4,2411.7"/><path d="M2633,2450.7 L2639.4,2432.9 L2645.8,2425.8 L2652.2,2420.5 L2658.5,2416.2 L2664.9,2412.6 L2671.3,2409.4 L2677.7,2406.7 L2684.1,2404.2 L2690.4,2402 L2696.8,2400 L2703.2,2398.2 L2709.6,2396.7 L2716,2395.2 L2722.4,2394 L2728.8,2392.9 L2735.1,2391.9 L2741.5,2391 L2747.9,2390.3 L2754.3,2389.7 L2760.7,2389.2 L2767,2388.8 L2773.4,2388.5 L2779.8,2388.4 L2786.2,2388.3 L2792.6,2388.4 L2799,2388.5 L2805.3,2388.8 L2811.7,2389.2 L2818.1,2389.7 L2824.5,2390.3 L2830.9,2391 L2837.3,2391.9 L2843.6,2392.9 L2850,2394 L2856.4,2395.2 L2862.8,2396.7 L2869.2,2398.2 L2875.6,2400 L2881.9,2402 L2888.3,2404.2 L2894.7,2406.7 L2901.1,2409.4 L2907.5,2412.6 L2913.9,2416.2 L2920.2,2420.5 L2926.6,2425.8 L2933,2432.9 L2939.4,2450.7"/><ellipse cx="2786.2" cy="2463.9" rx="153.2" ry="60.7"/><ellipse cx="2786.2" cy="2463.5" rx="143" ry="56.2"/><line x1="2633" y1="2385.8" x2="2633" y2="2463.9" /><line x1="2939.4" y1="2385.8" x2="2939.4" y2="2463.9" /><g stroke-width="1.80"><line x1="2642.8" y1="2374.3" x2="2642.8" y2="2399.8" /><line x1="2657.5" y1="2365.1" x2="2657.5" y2="2390.2" /><line x1="2671.4" y1="2359.1" x2="2671.4" y2="2384.1" /><line x1="2684.9" y1="2354.6" x2="2684.9" y2="2379.5" /><line x1="2698.1" y1="2351.2" x2="2698.1" y2="2375.9" /><line x1="2711.5" y1="2348.4" x2="2711.5" y2="2373" /><line x1="2726.3" y1="2346" x2="2726.3" y2="2370.5" /><line x1="2739.9" y1="2344.3" x2="2739.9" y2="2368.8" /><line x1="2752.6" y1="2343.1" x2="2752.6" y2="2367.6" /><line x1="2763.9" y1="2342.4" x2="2763.9" y2="2366.9" /><line x1="2776.4" y1="2342" x2="2776.4" y2="2366.4" /><line x1="2795.9" y1="2342" x2="2795.9" y2="2366.4" /><line x1="2807.5" y1="2342.4" x2="2807.5" y2="2366.8" /><line x1="2819.8" y1="2343.1" x2="2819.8" y2="2367.6" /><line x1="2832.7" y1="2344.3" x2="2832.7" y2="2368.8" /><line x1="2846.2" y1="2346" x2="2846.2" y2="2370.5" /><line x1="2860.5" y1="2348.3" x2="2860.5" y2="2372.9" /><line x1="2874" y1="2351.1" x2="2874" y2="2375.8" /><line x1="2887.9" y1="2354.8" x2="2887.9" y2="2379.6" /><line x1="2901.4" y1="2359.2" x2="2901.4" y2="2384.2" /><line x1="2915.3" y1="2365.3" x2="2915.3" y2="2390.5" /><line x1="2928.9" y1="2373.7" x2="2928.9" y2="2399.2" /><line x1="2639.5" y1="2432.7" x2="2639.5" y2="2446.4" /><line x1="2646.1" y1="2425.5" x2="2646.1" y2="2439.3" /><line x1="2652.7" y1="2420.1" x2="2652.7" y2="2434.1" /><line x1="2659.3" y1="2415.7" x2="2659.3" y2="2429.9" /><line x1="2665.9" y1="2412.1" x2="2665.9" y2="2426.3" /><line x1="2672.5" y1="2408.9" x2="2672.5" y2="2423.2" /><line x1="2679.1" y1="2406.1" x2="2679.1" y2="2420.5" /><line x1="2685.7" y1="2403.6" x2="2685.7" y2="2418.1" /><line x1="2692.3" y1="2401.4" x2="2692.3" y2="2415.9" /><line x1="2698.9" y1="2399.4" x2="2698.9" y2="2414" /><line x1="2705.5" y1="2397.7" x2="2705.5" y2="2412.3" /><line x1="2712.1" y1="2396.1" x2="2712.1" y2="2410.8" /><line x1="2718.7" y1="2394.7" x2="2718.7" y2="2409.4" /><line x1="2725.3" y1="2393.4" x2="2725.3" y2="2408.2" /><line x1="2731.9" y1="2392.4" x2="2731.9" y2="2407.1" /><line x1="2738.5" y1="2391.4" x2="2738.5" y2="2406.2" /><line x1="2745.1" y1="2390.6" x2="2745.1" y2="2405.4" /><line x1="2751.7" y1="2389.9" x2="2751.7" y2="2404.8" /><line x1="2758.3" y1="2389.3" x2="2758.3" y2="2404.2" /><line x1="2764.9" y1="2388.9" x2="2764.9" y2="2403.8" /><line x1="2771.5" y1="2388.6" x2="2771.5" y2="2403.5" /><line x1="2778.1" y1="2388.4" x2="2778.1" y2="2403.3" /><line x1="2784.7" y1="2388.3" x2="2784.7" y2="2403.2" /><line x1="2791.3" y1="2388.3" x2="2791.3" y2="2403.2" /><line x1="2797.9" y1="2388.5" x2="2797.9" y2="2403.4" /><line x1="2804.5" y1="2388.7" x2="2804.5" y2="2403.6" /><line x1="2811.1" y1="2389.1" x2="2811.1" y2="2404" /><line x1="2817.7" y1="2389.6" x2="2817.7" y2="2404.5" /><line x1="2824.3" y1="2390.3" x2="2824.3" y2="2405.1" /><line x1="2830.9" y1="2391" x2="2830.9" y2="2405.8" /><line x1="2837.5" y1="2391.9" x2="2837.5" y2="2406.7" /><line x1="2844.1" y1="2392.9" x2="2844.1" y2="2407.7" /><line x1="2850.7" y1="2394.1" x2="2850.7" y2="2408.8" /><line x1="2857.3" y1="2395.4" x2="2857.3" y2="2410.1" /><line x1="2863.9" y1="2396.9" x2="2863.9" y2="2411.6" /><line x1="2870.5" y1="2398.6" x2="2870.5" y2="2413.2" /><line x1="2877.1" y1="2400.5" x2="2877.1" y2="2415" /><line x1="2883.7" y1="2402.6" x2="2883.7" y2="2417.1" /><line x1="2890.3" y1="2404.9" x2="2890.3" y2="2419.4" /><line x1="2896.9" y1="2407.6" x2="2896.9" y2="2421.9" /><line x1="2903.5" y1="2410.6" x2="2903.5" y2="2424.9" /><line x1="2910.1" y1="2414" x2="2910.1" y2="2428.2" /><line x1="2916.7" y1="2418" x2="2916.7" y2="2432.1" /><line x1="2923.3" y1="2422.9" x2="2923.3" y2="2436.8" /><line x1="2929.9" y1="2429.1" x2="2929.9" y2="2442.9" /></g></g><g fill="none" stroke="#111" stroke-width="2.0"><ellipse cx="2785.6" cy="2598.6" rx="185" ry="32.8"/><path d="M2600.6,2598.6 L2600.6,2674.7 A185,30 0 0 0 2970.6,2674.7 L2970.6,2598.6"/></g><g stroke="#111" stroke-width="1.8"><line x1="3024.5" y1="2188.9" x2="3024.5" y2="2296" /><line x1="3042.7" y1="2722.7" x2="3042.7" y2="2615.5" /></g><polygon points="3024.5,2331.1 3012.7,2294.2 3036.3,2294.2" fill="#111"/><polygon points="3042.7,2580.6 3030.7,2617.4 3054.7,2617.4" fill="#111"/></svg></body></html>
